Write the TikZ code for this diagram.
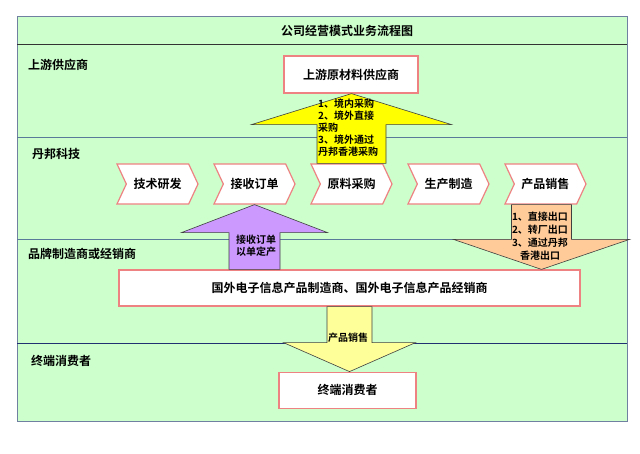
\documentclass[tikz,border=0pt]{standalone}
\usepackage{fontspec}
\setmainfont{Noto Sans CJK SC}[BoldFont={Noto Sans CJK SC Bold}]
\usetikzlibrary{positioning, calc, shapes.symbols}

\definecolor{lanegreen}{RGB}{204,255,204}
\definecolor{framegray}{RGB}{112,128,160}
\definecolor{laneline}{RGB}{90,122,154}
\definecolor{navyline}{RGB}{32,48,112}
\definecolor{boxred}{RGB}{238,130,130}
\definecolor{buyyellow}{RGB}{255,255,0}
\definecolor{orderpurple}{RGB}{204,153,255}
\definecolor{exportorange}{RGB}{255,204,153}
\definecolor{saleyellow}{RGB}{255,255,153}

% block arrow: style, from, tip, shaft half width, head half width, head length
\newcommand{\blockarrow}[6]{%
  \draw[#1] let \p1=(#2), \p2=(#3), \n1={sign(\y2-\y1)} in
    ({\x1-#4},\y1) -- ({\x1-#4},{\y2-(\n1)*#6})
    -- ({\x1-#5},{\y2-(\n1)*#6}) -- (\x1,\y2)
    -- ({\x1+#5},{\y2-(\n1)*#6}) -- ({\x1+#4},{\y2-(\n1)*#6})
    -- ({\x1+#4},\y1) -- cycle;}

\begin{document}
\begin{tikzpicture}[
    x=1pt, y=-1pt,
    lbox/.style={
        rectangle, draw=boxred, fill=white,
        line width=1.2pt, inner sep=0pt,
        font=\fontsize{12}{14}\selectfont\bfseries,
    },
    chev/.style={
        signal, signal from=west, signal to=east, signal pointer angle=130,
        draw=boxred, fill=white, line width=1.2pt, inner sep=0pt,
        minimum width=81pt, minimum height=40pt,
        font=\fontsize{12}{14}\selectfont\bfseries,
    },
    lanetext/.style={anchor=west, inner sep=0pt, font=\fontsize{12}{14}\selectfont\bfseries},
    atext/.style={inner sep=0pt, font=\fontsize{10}{12}\selectfont\bfseries},
    barrow/.style={draw=black!75, line width=0.6pt},
]
\useasboundingbox (0,0) rectangle (640,453);

% === swim lanes ===
\draw[fill=lanegreen, draw=framegray, line width=0.8pt] (17,16) rectangle (627,421);
\draw[black!80, line width=0.8pt] (17,44) -- (627,44);
\draw[laneline, line width=0.8pt] (17,137) -- (627,137);
\draw[laneline, line width=0.8pt] (17,239) -- (627,239);
\draw[navyline, line width=0.8pt] (17,343) -- (627,343);

\node[lanetext, anchor=center] (title) at (347,31) {公司经营模式业务流程图};
\node[lanetext] (upstream) at (28,65) {上游供应商};
\node[lanetext] (danbang) at (32,154) {丹邦科技};
\node[lanetext] (brand) at (28,254) {品牌制造商或经销商};
\node[lanetext] (enduser) at (31,361) {终端消费者};

% === boxes ===
\node[lbox, minimum width=134pt, minimum height=37pt] (supplier) at (351,74.5) {上游原材料供应商};
\node[lbox, minimum width=461pt, minimum height=36pt] (wholesale) at (349.5,288) {国外电子信息产品制造商、国外电子信息产品经销商};
\node[lbox, minimum width=137pt, minimum height=36pt, below=65pt of wholesale, xshift=-2pt] (consumer) {终端消费者};

% === chevrons ===
\node[chev] (tech) at (157.5,184) {技术研发};
\node[chev, right=24pt of tech] (order) {接收订单};
\node[chev, right=24pt of order] (raw) {原料采购};
\node[chev, right=24pt of raw] (make) {生产制造};
\node[chev, right=24pt of make] (sales) {产品销售};

% === block arrows ===
\blockarrow{barrow, fill=buyyellow}{raw.north}{supplier.south}{34.5pt}{100pt}{31pt}
\blockarrow{barrow, fill=orderpurple}{order.south |- wholesale.north}{order.south}{25.5pt}{73pt}{28pt}
\blockarrow{barrow, fill=exportorange}{[xshift=-4pt]sales.south}{wholesale.north}{30pt}{88pt}{30pt}
\blockarrow{barrow, fill=saleyellow}{wholesale.south}{consumer.north}{22.5pt}{66pt}{29pt}

\node[atext, align=left, anchor=west] (buytxt) at (318,128) {1、境内采购\\2、境外直接\\采购\\3、境外通过\\丹邦香港采购};
\node[atext, align=center] (ordertxt) at (256,246) {接收订单\\以单定产};
\node[atext, align=center, font=\fontsize{10}{13}\selectfont\bfseries] (exporttxt) at (540,236) {1、直接出口\\2、转厂出口\\3、通过丹邦\\香港出口};
\node[atext] (saletxt) at (348,338) {产品销售};

\end{tikzpicture}
\end{document}
